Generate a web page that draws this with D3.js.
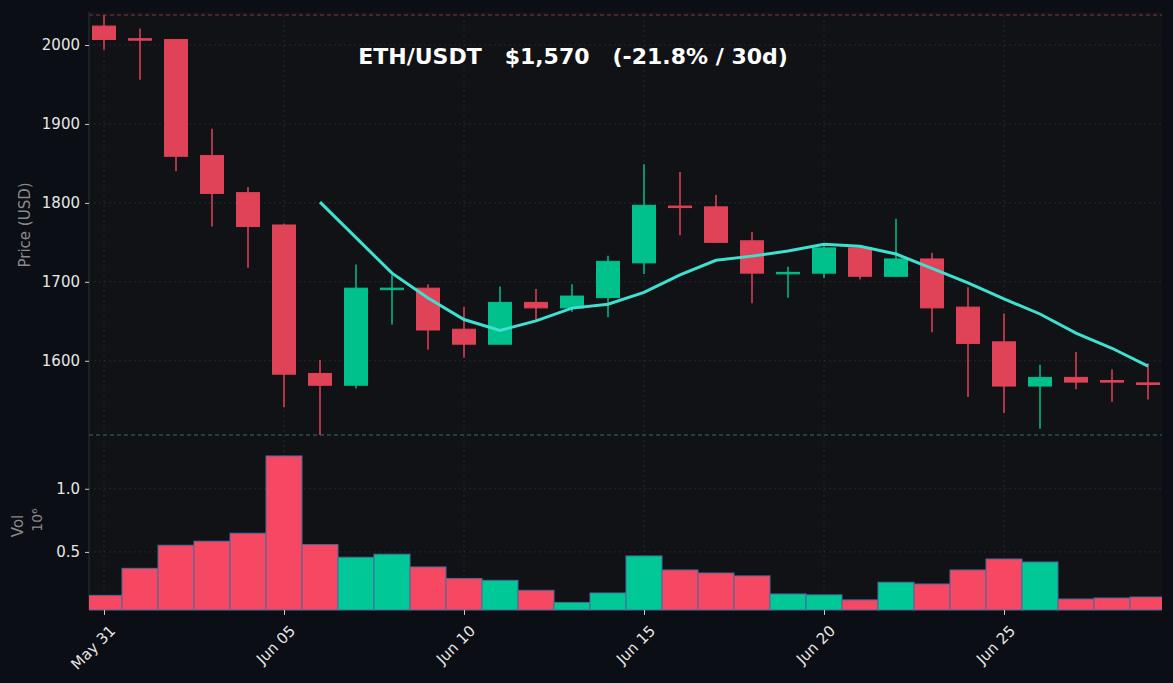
<!DOCTYPE html>
<html><head><meta charset="utf-8">
<script src="https://cdn.jsdelivr.net/npm/d3@7"></script>
<style>body{margin:0;background:#0b0e14;}svg{display:block;font-family:"DejaVu Sans",sans-serif;}</style>
</head><body><svg id="c" width="1173" height="683"></svg>
<script>
const dates = ["May 31","Jun 01","Jun 02","Jun 03","Jun 04","Jun 05","Jun 06","Jun 07","Jun 08","Jun 09","Jun 10","Jun 11","Jun 12","Jun 13","Jun 14","Jun 15","Jun 16","Jun 17","Jun 18","Jun 19","Jun 20","Jun 21","Jun 22","Jun 23","Jun 24","Jun 25","Jun 26","Jun 27","Jun 28","Jun 29"];
const opens  = [2024,2008,2007,1860,1813,1772,1584,1569,1692,1692,1640,1621,1674,1667,1680,1724,1796,1795,1752,1711,1711,1743,1707,1729,1668,1624,1568,1579,1575,1572];
const highs  = [2038,2021,2007,1894,1820,1774,1601,1722,1709,1697,1668,1694,1691,1697,1733,1849,1839,1810,1763,1719,1745,1745,1780,1737,1693,1660,1595,1611,1589,1597];
const lows   = [1994,1956,1840,1770,1718,1541,1506,1565,1646,1614,1604,1621,1652,1662,1655,1710,1759,1750,1673,1680,1705,1703,1707,1636,1554,1534,1514,1564,1548,1551];
const closes = [2007,2007,1859,1812,1770,1583,1569,1692,1692,1639,1621,1674,1667,1682,1726,1797,1795,1750,1711,1712,1743,1707,1729,1667,1622,1568,1579,1573,1573,1570];
const volumes= [0.156,0.37,0.553,0.585,0.648,1.26,0.558,0.458,0.482,0.381,0.29,0.275,0.196,0.10,0.175,0.468,0.357,0.333,0.31,0.167,0.16,0.12,0.26,0.246,0.357,0.444,0.42,0.127,0.135,0.143];
const priceTicks = [1600,1700,1800,1900,2000];
const volTicks = [0.5,1.0];
const dateTicks = ["May 31","Jun 05","Jun 10","Jun 15","Jun 20","Jun 25"];
const maWindow = 7;

const svg = d3.select("#c");
const L=89, R=1162, PT=15, PB=435, VT=437, VB=610;
const UP="#00c08b", DN="#e04257", VUP="#00c896", VDN="#f64862";
svg.append("rect").attr("x",L).attr("y",PT-3).attr("width",R-L).attr("height",VB-PT+3).attr("fill","#101216");
svg.append("clipPath").attr("id","clip").append("rect").attr("x",L).attr("y",0).attr("width",R-L).attr("height",VB+1);

const xi = d3.scaleLinear().domain([-15/36, 29+14/36]).range([L,R]);
const day = xi(1)-xi(0);
const y = d3.scaleLinear().domain([1506,2038]).range([PB,PT]);
const yv = d3.scaleLinear().domain([0.04,1.41]).range([VB,VT]);
const x = d => xi(dates.indexOf(d));

const grid = svg.append("g").attr("stroke","#2a2e36").attr("stroke-dasharray","2,3").attr("stroke-width",0.8);
dateTicks.forEach(d=>grid.append("line").attr("x1",x(d)).attr("x2",x(d)).attr("y1",PT).attr("y2",VB));
priceTicks.forEach(p=>grid.append("line").attr("x1",L).attr("x2",R).attr("y1",y(p)).attr("y2",y(p)));
volTicks.forEach(v=>grid.append("line").attr("x1",L).attr("x2",R).attr("y1",yv(v)).attr("y2",yv(v)));

svg.append("line").attr("x1",L).attr("x2",R).attr("y1",PT).attr("y2",PT).attr("stroke","#7a3a48").attr("stroke-dasharray","4,3");
svg.append("line").attr("x1",L).attr("x2",R).attr("y1",PB).attr("y2",PB).attr("stroke","#2f6f62").attr("stroke-dasharray","4,3");
svg.append("line").attr("x1",L).attr("x2",L).attr("y1",PT-3).attr("y2",VB).attr("stroke","#2a2e36");

svg.append("g").attr("clip-path","url(#clip)").selectAll("rect").data(volumes).join("rect")
  .attr("x",(v,i)=>xi(i)-day/2).attr("width",day)
  .attr("y",v=>yv(v)).attr("height",v=>VB-yv(v))
  .attr("fill",(v,i)=>closes[i]>=opens[i]?VUP:VDN)
  .attr("stroke","#4a6a9a").attr("stroke-width",1);

const cg = svg.append("g");
dates.forEach((d,i)=>{
  const c = closes[i]>=opens[i]?UP:DN;
  cg.append("line").attr("x1",xi(i)).attr("x2",xi(i)).attr("y1",y(highs[i])).attr("y2",y(lows[i])).attr("stroke",c).attr("stroke-width",1.5);
  const top=y(Math.max(opens[i],closes[i])), bot=y(Math.min(opens[i],closes[i]));
  cg.append("rect").attr("x",xi(i)-11.5).attr("width",23).attr("y",top).attr("height",Math.max(bot-top,1.5)).attr("fill",c).attr("stroke",c).attr("stroke-width",1);
});

const ma = dates.map((d,i)=> i<maWindow-1?null:{i, v:d3.mean(closes.slice(i-maWindow+1,i+1))}).filter(Boolean);
svg.append("path").datum(ma).attr("fill","none").attr("stroke","#40e0d0").attr("stroke-width",3)
  .attr("d",d3.line().x(p=>xi(p.i)).y(p=>y(p.v)));

const xb = d3.scalePoint().domain(dates).range([xi(0),xi(29)]);
const ax = svg.append("g").attr("transform",`translate(${L},0)`).call(d3.axisLeft(y).tickValues(priceTicks).tickSize(4).tickFormat(d3.format("d")));
const av = svg.append("g").attr("transform",`translate(${L},0)`).call(d3.axisLeft(yv).tickValues(volTicks).tickSize(4).tickFormat(d3.format(".1f")));
const axx = svg.append("g").attr("transform",`translate(0,${VB})`).call(d3.axisBottom(xb).tickValues(dateTicks).tickSize(5));
[ax,av,axx].forEach(g=>{g.attr("font-size",null).attr("font-family",null);g.select(".domain").remove();g.selectAll("line").attr("stroke","#c8c8c8");g.selectAll("text").attr("fill","#e6e6e6").style("font-size","15px");});
ax.selectAll("text").attr("dx",-2); av.selectAll("text").attr("dx",-2);
axx.selectAll("text").attr("text-anchor","end").attr("dy",0).attr("transform","translate(6,16) rotate(-45)");

svg.append("text").attr("transform","translate(30,225) rotate(-90)").attr("text-anchor","middle").attr("fill","#8a8a8a").style("font-size","15px").text("Price (USD)");
svg.append("text").attr("transform","translate(23,526) rotate(-90)").attr("text-anchor","middle").attr("fill","#8a8a8a").style("font-size","15px").text("Vol");
svg.append("text").attr("transform","translate(42,520) rotate(-90)").attr("text-anchor","middle").attr("fill","#8a8a8a").style("font-size","14px").text("10⁶");

svg.append("text").attr("x",573).attr("y",64).attr("text-anchor","middle").attr("fill","#ffffff").style("font-size","22px").attr("font-weight","bold")
  .attr("xml:space","preserve").text("ETH/USDT   $1,570   (-21.8% / 30d)");
</script></body></html>
